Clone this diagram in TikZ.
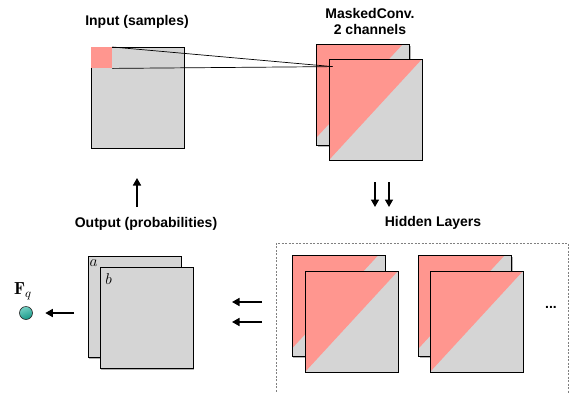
\RequirePackage{fix-cm}
\documentclass[tikz,border=0pt]{standalone}
\usepackage{fontspec}
\newfontfamily\lsans{Liberation Sans}
\usetikzlibrary{shadows,arrows.meta}
\definecolor{pinkc}{RGB}{255,150,143}
\definecolor{greyc}{RGB}{213,213,213}
\definecolor{tealc}{RGB}{26,178,158}
\tikzset{
  sq/.style={rectangle, inner sep=0pt, minimum width=93pt, minimum height=101pt,
    fill=greyc, draw=black, line width=0.8pt,
    drop shadow={shadow xshift=1.3pt, shadow yshift=-1.3pt, fill=black, opacity=0.3}},
  mfront/.style={sq, path picture={\fill[pinkc] (path picture bounding box.north west) -- (path picture bounding box.north east) -- (path picture bounding box.south west) -- cycle;}},
  mback/.style={sq, path picture={\fill[pinkc] (path picture bounding box.north west) -- ([xshift=-7pt]path picture bounding box.north east) -- ([yshift=8pt]path picture bounding box.south west) -- cycle;}},
  lbl/.style={font=\lsans\bfseries\fontsize{14}{16}\selectfont, align=center, inner sep=0pt},
  arr/.style={line width=1.6pt, -{Triangle[length=7.5pt,width=8pt]}},
  thinline/.style={line width=0.7pt, black},
  lettr/.style={inner sep=0pt, font=\fontsize{12.5}{14}\selectfont},
}
\begin{document}
\begin{tikzpicture}[x=1pt,y=-1pt]
\useasboundingbox (0,0) rectangle (570,392);
% labels
\node[lbl] (inlabel) at (137,22) {Input (samples)};
\node[lbl] (mclabel) at (370,21) {MaskedConv.\\2 channels};
\node[lbl] (outlabel) at (146,224) {Output (probabilities)};
\node[lbl] (hidlabel) at (433,223) {Hidden Layers};
% input
\node[sq] (input) at (137.5,97.5) {};
\node[fill=pinkc, inner sep=0pt, minimum size=21pt, anchor=north west] (patch) at ([xshift=0.4pt,yshift=-0.4pt]input.north west) {};
% masked conv
\node[mback] (mcb) at (363,95) {};
\node[mfront] (mcf) at (375.5,109.5) {};
\coordinate (focus) at ([xshift=4pt,yshift=-8pt]mcf.north west);
\draw[thinline] (patch.north east) -- (focus);
\draw[thinline] (patch.south east) -- (focus);
% hidden layers box
\draw[gray, line width=0.6pt, dash pattern=on 2pt off 1.5pt] (276,395) -- (276,243) -- (568,243) -- (568,395);
\node[mback] (h1b) at (338.5,306) {};
\node[mfront] (h1f) at (351.5,321.5) {};
\node[mback] (h2b) at (465,306) {};
\node[mfront] (h2f) at (476.5,321.5) {};
\node[lbl] (dots) at (551,307) {...};
% output
\node[sq] (outb) at (134.5,307) {};
\node[sq] (outf) at (146.5,318) {};
\node[lettr, anchor=center] (la) at ([xshift=6pt,yshift=-7pt]outb.north west) {\scalebox{1.25}{$a$}};
\node[lettr, anchor=center] (lb) at ([xshift=9pt,yshift=-12pt]outf.north west) {\scalebox{1.25}{$b$}};
% Fq
\node[circle, draw=black!85, line width=0.6pt, minimum size=13pt, inner sep=0pt, top color=tealc!60!white, bottom color=tealc!85!black, shading angle=20] (fq) at (26,313) {};
\node[inner sep=0pt, font=\fontsize{14}{16}\selectfont] (fqlabel) at (23,291) {\scalebox{1.25}{$\mathbf{F}_q$}};
% arrows
\coordinate (u1) at (137,207);
\coordinate (u2) at (137,178);
\draw[arr] (u1) -- (u2);
\coordinate (d1a) at (375,182);
\coordinate (d1b) at (375,207);
\coordinate (d2a) at (389,182);
\coordinate (d2b) at (389,207);
\draw[arr] (d1a) -- (d1b);
\draw[arr] (d2a) -- (d2b);
\coordinate (l1a) at (262,302);
\coordinate (l1b) at (232,302);
\coordinate (l2a) at (262,322);
\coordinate (l2b) at (232,322);
\draw[arr] (l1a) -- (l1b);
\draw[arr] (l2a) -- (l2b);
\coordinate (fqa) at (74,313);
\draw[arr, shorten >=12.5pt] (fqa) -- (fq.east);
\end{tikzpicture}
\end{document}
